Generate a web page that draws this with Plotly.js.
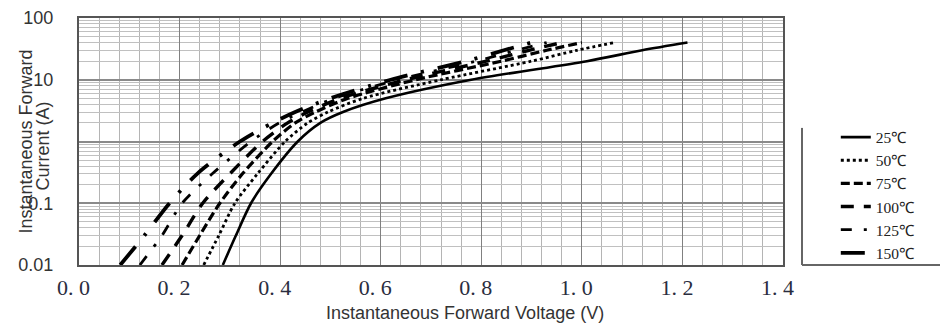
<!DOCTYPE html>
<html><head><meta charset="utf-8">
<script src="https://cdn.plot.ly/plotly-3.0.1.min.js"></script>
<style>html,body{margin:0;padding:0;background:#fff}#chart{width:940px;height:324px}</style>
</head><body><div id="chart"></div>
<script>
// Forward current levels (A) shared by all curves
var currents = [0.01, 0.03, 0.1, 0.3, 1, 2, 3, 5, 10, 20, 30, 40];
// Forward voltage (V) at each current level, per temperature
var v25  = [0.286, 0.312, 0.342, 0.382, 0.435, 0.480, 0.525, 0.610, 0.780, 1.010, 1.120, 1.210];
var v50  = [0.248, 0.278, 0.310, 0.355, 0.410, 0.455, 0.495, 0.565, 0.720, 0.900, 0.990, 1.065];
var v75  = [0.205, 0.240, 0.280, 0.325, 0.385, 0.430, 0.470, 0.535, 0.670, 0.840, 0.930, 1.000];
var v100 = [0.165, 0.205, 0.246, 0.300, 0.365, 0.415, 0.455, 0.520, 0.650, 0.810, 0.895, 0.960];
var v125 = [0.121, 0.165, 0.205, 0.265, 0.342, 0.398, 0.443, 0.507, 0.635, 0.790, 0.870, 0.930];
var v150 = [0.082, 0.130, 0.180, 0.235, 0.320, 0.385, 0.430, 0.500, 0.620, 0.770, 0.845, 0.900];
var seriesNames = ["25\u2103", "50\u2103", "75\u2103", "100\u2103", "125\u2103", "150\u2103"];
var xTickVals = [0, 0.2, 0.4, 0.6, 0.8, 1.0, 1.2, 1.4];
var xTickText = ["0. 0", "0. 2", "0. 4", "0. 6", "0. 8", "1. 0", "1. 2", "1. 4"];
var yTickVals = [0.01, 0.1, 1, 10, 100];
var yTickText = ["0.01", "0.1", "", "10", "100"];

var voltages = [v25, v50, v75, v100, v125, v150];
var styles = [
  {dash: "solid", width: 2.6},
  {dash: "3px,3px", width: 2.8},
  {dash: "9px,4px", width: 3.2},
  {dash: "13px,10px", width: 3.4},
  {dash: "11px,12px,3px,12px", width: 2.8},
  {dash: "24px,14px,3px,14px", width: 3.8}
];
var traces = voltages.map(function (v, i) {
  return {
    x: v, y: currents, type: "scatter", mode: "lines", name: seriesNames[i],
    line: {color: "#000", dash: styles[i].dash, width: styles[i].width, shape: "spline", smoothing: 0.8}
  };
});

var sp = "\u2002";
var layout = {
  width: 940, height: 324,
  margin: {l: 79, r: 157, t: 18, b: 59},
  paper_bgcolor: "#fff", plot_bgcolor: "#fff",
  showlegend: true,
  legend: {x: 1.075, y: 0.585, xanchor: "left", yanchor: "top", bgcolor: "rgba(0,0,0,0)",
           font: {family: "Liberation Serif", size: 15.5, color: "#222"}, tracegroupgap: 0},
  xaxis: {
    range: [0, 1.4], tickvals: xTickVals, ticktext: xTickText.map(function (t) { return t + sp; }), ticks: "",
    tickfont: {family: "Liberation Serif", size: 22, color: "#2a2d3e"}, ticklabelstandoff: 2,
    showgrid: true, gridcolor: "#808080", gridwidth: 1.2,
    minor: {dtick: 0.04, showgrid: true, gridcolor: "#b4b4b4", gridwidth: 1},
    showline: true, mirror: true, linecolor: "#555", linewidth: 2, zeroline: false
  },
  yaxis: {
    type: "log", range: [-2, 2], tickvals: yTickVals, ticktext: yTickText, ticks: "",
    tickfont: {family: "Liberation Sans", size: 18, color: "#333"}, ticklabelstandoff: 20,
    showgrid: true, gridcolor: "#8a8a8a", gridwidth: 2,
    minor: {dtick: "D1", showgrid: true, gridcolor: "#c0c0c0", gridwidth: 1},
    showline: true, mirror: true, linecolor: "#555", linewidth: 2, zeroline: false
  },
  annotations: [
    {text: "Instantaneous Forward", xref: "paper", yref: "paper", x: -0.0767, y: 0.50,
     xanchor: "center", yanchor: "middle", textangle: -90, showarrow: false,
     font: {family: "Liberation Sans", size: 18, color: "#333"}},
    {text: "Current (A)", xref: "paper", yref: "paper", x: -0.0511, y: 0.48,
     xanchor: "center", yanchor: "middle", textangle: -90, showarrow: false,
     font: {family: "Liberation Sans", size: 18, color: "#333"}},
    {text: "Instantaneous Forward Voltage (V)", xref: "paper", yref: "paper", x: 0.548, y: -0.195,
     xanchor: "center", yanchor: "middle", showarrow: false,
     font: {family: "Liberation Sans", size: 18, color: "#333"}}
  ],
  shapes: [
    {type: "line", xref: "paper", yref: "paper", x0: 1.027, x1: 1.027, y0: 0, y1: 0.555, line: {color: "#666", width: 2}},
    {type: "line", xref: "paper", yref: "paper", x0: 1.027, x1: 1.23, y0: 0, y1: 0, line: {color: "#666", width: 2}}
  ]
};
Plotly.newPlot("chart", traces, layout, {staticPlot: true, displayModeBar: false});
</script></body></html>
